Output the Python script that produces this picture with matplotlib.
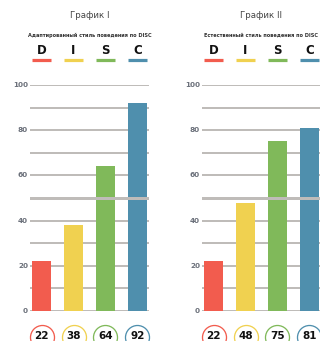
import matplotlib
matplotlib.use("Agg")
import matplotlib.pyplot as plt
import matplotlib.transforms as mtransforms

# DISC profile data
letters = ["D", "I", "S", "C"]
colors = ["#f25c4e", "#f0d150", "#80b95a", "#4f8fad"]
adapted = [22, 38, 64, 92]
natural = [22, 48, 75, 81]
titles = ["График I", "График II"]
subtitles = ["Адаптированный стиль поведения по DISC",
             "Естественный стиль поведения по DISC"]
y_ticks = [0, 20, 40, 60, 80, 100]
grid_levels = [10, 20, 30, 40, 60, 70, 80, 90, 100]

W, H = 320, 341
fig = plt.figure(figsize=(W / 100, H / 100), dpi=100)
fig.patch.set_facecolor("white")

def px(v):
    return v * 0.72  # pixels -> points at 100 dpi

grid_color = "#bfbcb9"
tick_color = "#6b707a"

def panel(x0, values, title, subtitle):
    left, right = x0, x0 + 119
    bottom, top = 311, 85
    ax = fig.add_axes([left / W, (H - bottom) / H, (right - left) / W, (bottom - top) / H])
    ax.set_xlim(-0.36, 3.36)
    ax.set_ylim(0, 100)
    ax.axis("off")
    ax.patch.set_alpha(0)
    for lv in grid_levels:
        ax.axhline(lv, color=grid_color, lw=px(2), zorder=1)
    ax.axhline(0, color=grid_color, lw=px(2), zorder=1)
    ax.bar(range(4), values, width=0.62, color=colors, zorder=2)
    # heavier midline drawn over the bars
    ax.axhline(50, color=grid_color, lw=px(3), zorder=3)

    tr_y = mtransforms.blended_transform_factory(fig.transFigure, ax.transData)
    for t in y_ticks:
        ax.text((x0 - 2) / W, t, str(t), transform=tr_y, ha="right", va="center",
                fontsize=5.2, fontweight="bold", color=tick_color, clip_on=False)

    tr_x = mtransforms.blended_transform_factory(ax.transData, fig.transFigure)
    cx = (left + right) / 2 / W
    fig.text(cx, 1 - 15 / H, title, ha="center", va="center", fontsize=6.2, color="#444444")
    fig.text(cx, 1 - 35 / H, subtitle, ha="center", va="center", fontsize=3.6,
             fontweight="bold", color="#333333")
    for i, (L, c, v) in enumerate(zip(letters, colors, values)):
        ax.text(i, 1 - 50 / H, L, transform=tr_x, ha="center", va="center",
                fontsize=8.5, fontweight="bold", color="#111111", clip_on=False)
        ax.plot([i - 0.3, i + 0.3], [1 - 59.5 / H] * 2, transform=tr_x, color=c,
                lw=px(3.2), solid_capstyle="butt", clip_on=False)
        ax.scatter([i], [1 - 337 / H], transform=tr_x, s=(px(24)) ** 2, marker="o",
                   facecolor="white", edgecolor=c, linewidths=px(1.3), clip_on=False, zorder=4)
        ax.text(i, 1 - 336 / H, str(v), transform=tr_x, ha="center", va="center",
                fontsize=7.5, fontweight="bold", color="#111111", clip_on=False, zorder=5)
    return ax

panel(30, adapted, titles[0], subtitles[0])
panel(202, natural, titles[1], subtitles[1])

fig.savefig("out.png", dpi=100, facecolor="white")
